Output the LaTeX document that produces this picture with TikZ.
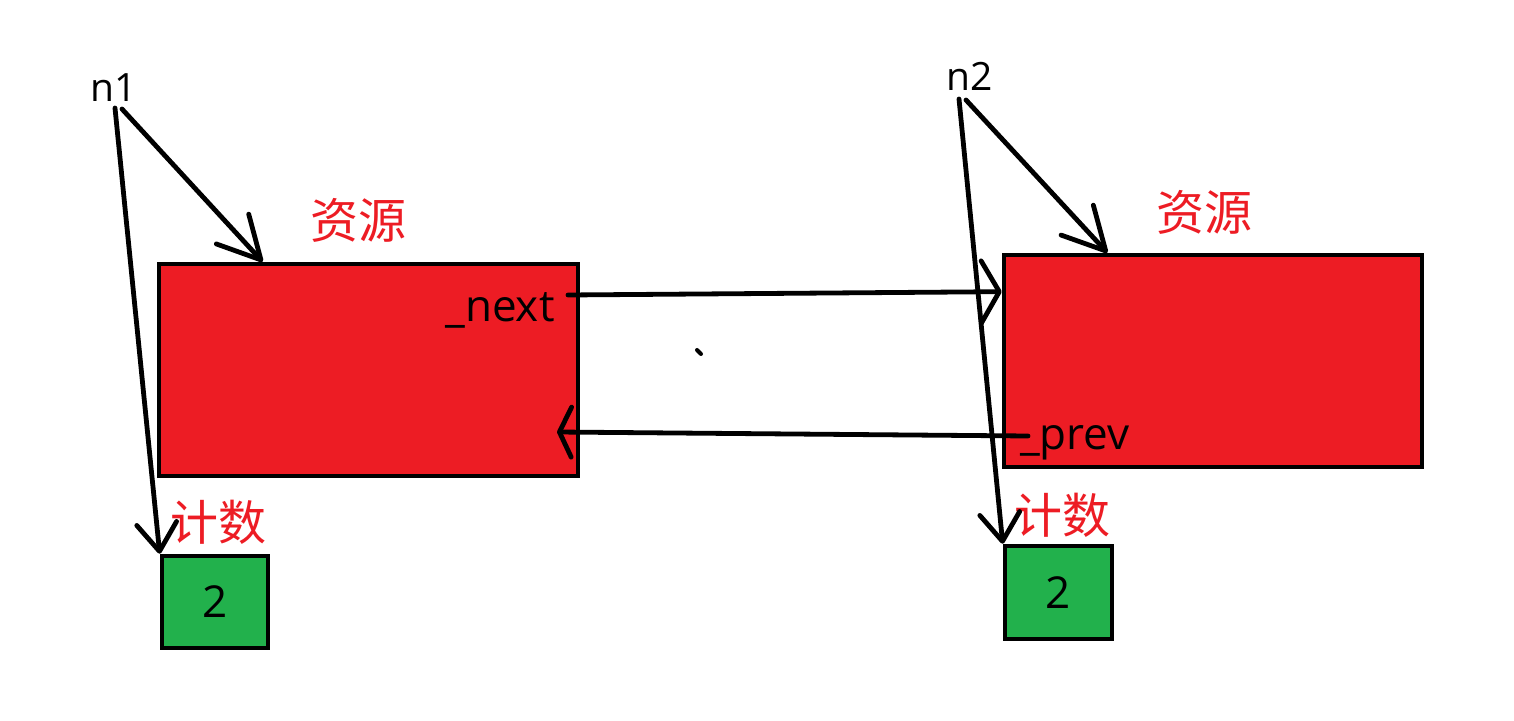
\documentclass[tikz,border=0pt]{standalone}
\usepackage{fontspec}
\setmainfont{Open Sans}
\newfontfamily\cjk{Noto Sans CJK SC}
\usetikzlibrary{arrows.meta,calc}
\definecolor{pred}{HTML}{ED1C24}
\definecolor{pgreen}{HTML}{22B14C}
\tikzset{
  redbox/.style={draw=black, line width=2.3pt, fill=pred, inner sep=0pt, minimum width=209.5pt, minimum height=106pt},
  greenbox/.style={draw=black, line width=2.3pt, fill=pgreen, inner sep=0pt, minimum width=53pt, minimum height=46pt, font=\fontsize{22}{22}\selectfont},
  cn/.style={text=pred, font=\cjk\fontsize{24}{24}\selectfont, inner sep=0pt},
  lbl/.style={font=\fontsize{22}{22}\selectfont, inner sep=0pt, anchor=base},
  nlbl/.style={font=\fontsize{19.5}{19.5}\selectfont, inner sep=0pt, anchor=base},
  stroke/.style={line width=2.4pt, line cap=round, line join=round},
  arrR/.style={-{Straight Barb[length=21pt,width=22pt,round]}},
  arrG/.style={-{Straight Barb[length=14pt,width=20pt,round]}},
  arrN/.style={-{Straight Barb[length=9pt,width=31pt,round]}},
  arrP/.style={-{Straight Barb[length=6pt,width=25pt,round]}}
}
\begin{document}
\begin{tikzpicture}[x=0.5pt,y=-0.5pt]
\useasboundingbox[fill=white] (0,0) rectangle (1514,721);
\node[redbox] (r1) at (368.5,370) {};
\node[redbox, minimum width=209pt] (r2) at (1213,361) {};
\node[greenbox] (g1) at (215,602) {2};
\node[greenbox, minimum width=53.5pt, minimum height=46.5pt] (g2) at (1058.5,592.5) {2};
\node[nlbl] (n1) at (114,102) {n1};
\node[nlbl] (n2) at (970,91) {n2};
\node[cn] (res1) at (358,220) {资源};
\node[cn] (res2) at (1204,212) {资源};
\node[cn] (cnt1) at (218,522) {计数};
\node[cn] (cnt2) at (1062,515) {计数};
\node[lbl] (next) at (500,322) {\_next};
\node[lbl] (prev) at (1075,449) {\_prev};
\coordinate (n1a) at (115,108);
\coordinate (n1b) at (122,109);
\coordinate (n2a) at (959,99);
\coordinate (n2b) at (966,100);
\coordinate (nx0) at (568,295);
\coordinate (pv0) at (1028,436);
\coordinate (pv1) at (557,432);
\draw[stroke, arrG] (n1a) -- (g1.north west);
\draw[stroke, arrR] (n1b) -- ($(r1.north west)!0.25!(r1.north east)$);
\draw[stroke, arrG] (n2a) -- (g2.north west);
\draw[stroke, arrR] (n2b) -- ($(r2.north west)!0.25!(r2.north east)$);
\draw[stroke, arrN] (nx0) -- ($(r2.north west)!0.18!(r2.south west)$);
\draw[stroke, arrP] (pv0) -- (pv1);
\draw[line width=2pt, line cap=round] (697,350) -- (701,354);
\end{tikzpicture}
\end{document}
